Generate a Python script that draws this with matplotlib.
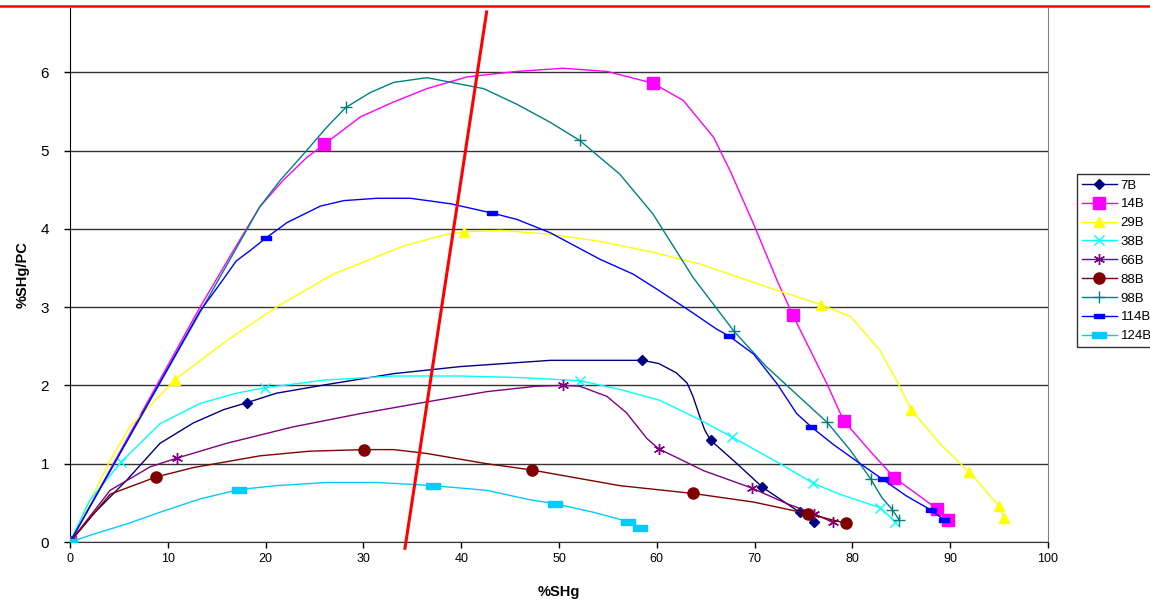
"""
Recreation of the %SHg/PC vs %SHg chart (Excel-style line chart with sparse markers).
"""
import matplotlib
matplotlib.use('Agg')
import matplotlib.pyplot as plt
from matplotlib.lines import Line2D

plt.rcParams['font.family'] = ['Liberation Sans', 'DejaVu Sans']

# ─────────────────────────────────────────
# DATA
# ─────────────────────────────────────────
x_7b = [0, 2.4, 5.8, 9.2, 12.6, 15.7, 18.1, 21.1, 26.2, 33.1, 39.9, 49.1, 58.5, 60.2,
        62.0, 63.1, 63.7, 64.4, 64.9, 65.5, 68.2, 70.8, 74.6, 76.1]
y_7b = [0, 0.36, 0.79, 1.26, 1.52, 1.69, 1.78, 1.90, 2.01, 2.15, 2.24, 2.32, 2.32, 2.28,
        2.16, 2.03, 1.86, 1.60, 1.43, 1.30, 1.00, 0.70, 0.38, 0.25]
mk_7b = [0, 6, 12, 19, 21, 22, 23]

x_14b = [0, 13.3, 16.7, 19.4, 21.8, 24.2, 26.0, 29.7, 33.1, 36.5, 40.6, 45.7, 50.4, 54.9,
         59.6, 62.7, 65.8, 67.5, 69.9, 72.3, 73.9, 77.4, 79.1, 82.1, 84.3, 88.7, 89.8]
y_14b = [0, 3.0, 3.72, 4.28, 4.62, 4.91, 5.08, 5.43, 5.62, 5.79, 5.94, 6.01, 6.05, 6.01,
         5.86, 5.64, 5.17, 4.74, 4.06, 3.34, 2.90, 2.02, 1.55, 1.12, 0.82, 0.42, 0.28]
mk_14b = [0, 6, 14, 20, 22, 24, 25, 26]

x_29b = [0, 4.1, 6.1, 10.7, 16.0, 21.1, 26.9, 34.1, 38.5, 40.3, 44.0, 49.1, 54.2, 59.6,
         64.4, 71.2, 76.8, 79.8, 82.8, 84.7, 86.0, 89.0, 91.9, 95.0, 95.5]
y_29b = [0, 1.04, 1.47, 2.07, 2.57, 3.0, 3.42, 3.78, 3.93, 3.96, 3.98, 3.93, 3.84, 3.70,
         3.55, 3.26, 3.03, 2.88, 2.45, 2.02, 1.69, 1.25, 0.90, 0.46, 0.31]
mk_29b = [0, 3, 9, 16, 20, 22, 23, 24]

x_38b = [0, 2.0, 5.2, 9.2, 13.3, 17.0, 19.9, 26.2, 33.1, 39.9, 46.0, 52.1, 56.2, 60.3,
         64.1, 67.7, 72.6, 76.0, 78.7, 82.8, 84.4]
y_38b = [0, 0.53, 1.02, 1.51, 1.77, 1.90, 1.97, 2.07, 2.12, 2.12, 2.10, 2.06, 1.95, 1.81,
         1.58, 1.34, 1.00, 0.75, 0.61, 0.44, 0.26]
mk_38b = [0, 2, 6, 11, 15, 17, 19, 20]

x_66b = [0, 4.1, 8.2, 10.9, 16.0, 22.8, 29.7, 36.5, 42.6, 47.7, 50.4, 52.1, 54.9, 56.9,
         59.0, 60.2, 64.8, 69.7, 73.3, 76.1, 78.0]
y_66b = [0, 0.66, 0.96, 1.07, 1.26, 1.47, 1.64, 1.79, 1.92, 1.99, 2.0, 1.99, 1.86, 1.65,
         1.32, 1.19, 0.91, 0.69, 0.49, 0.36, 0.25]
mk_66b = [0, 3, 10, 15, 17, 19, 20]

x_88b = [0, 4.1, 8.8, 12.6, 19.4, 24.5, 30.1, 33.1, 36.5, 42.6, 47.2, 56.2, 63.7, 69.9,
         75.5, 79.3]
y_88b = [0, 0.61, 0.83, 0.95, 1.10, 1.16, 1.18, 1.18, 1.13, 1.00, 0.92, 0.72, 0.62, 0.51,
         0.36, 0.24]
mk_88b = [0, 2, 6, 10, 12, 14, 15]

x_98b = [0, 13.6, 19.4, 21.5, 24.2, 26.2, 28.2, 30.7, 33.1, 36.5, 42.3, 45.7, 49.1, 52.1,
         56.2, 59.6, 63.7, 67.9, 71.2, 74.6, 77.4, 79.8, 81.9, 83.0, 84.1, 84.8]
y_98b = [0, 3.0, 4.28, 4.62, 5.0, 5.29, 5.55, 5.74, 5.87, 5.93, 5.79, 5.59, 5.36, 5.13,
         4.70, 4.19, 3.38, 2.69, 2.24, 1.85, 1.53, 1.17, 0.80, 0.57, 0.41, 0.28]
mk_98b = [0, 6, 13, 17, 20, 22, 24, 25]

x_114b = [0, 13.3, 15.3, 17.0, 18.4, 20.0, 22.2, 25.6, 28.0, 31.4, 34.8, 38.9, 43.2, 45.7,
          49.1, 54.2, 57.6, 60.0, 63.4, 66.1, 67.4, 69.9, 72.3, 74.3, 75.8, 78.0, 80.8,
          83.1, 85.5, 88.0, 89.4]
y_114b = [0, 2.95, 3.29, 3.59, 3.72, 3.88, 4.08, 4.29, 4.36, 4.39, 4.39, 4.32, 4.20, 4.12,
          3.95, 3.61, 3.42, 3.23, 2.95, 2.72, 2.63, 2.40, 2.02, 1.64, 1.47, 1.25, 1.0,
          0.80, 0.59, 0.41, 0.28]
mk_114b = [0, 5, 12, 20, 24, 27, 29, 30]

x_124b = [0, 2.4, 5.8, 9.2, 13.3, 17.3, 21.1, 26.2, 31.4, 37.1, 42.6, 47.0, 49.6, 53.5,
          57.1, 58.3]
y_124b = [0, 0.10, 0.23, 0.38, 0.55, 0.67, 0.72, 0.76, 0.76, 0.72, 0.66, 0.54, 0.49, 0.38,
          0.26, 0.18]
mk_124b = [0, 5, 9, 12, 14, 15]

# red guide line (two end points)
guide_x = [34.25, 42.6]
guide_y = [-0.08, 6.77]

x_ticks = list(range(0, 101, 10))
y_ticks = list(range(0, 7))

# ─────────────────────────────────────────
# PLOT
# ─────────────────────────────────────────
dash = [(-1, -0.45), (1, -0.45), (1, 0.45), (-1, 0.45), (-1, -0.45)]
asterisk = (6, 2, 0)

series = [
    ('7B',   x_7b,   y_7b,   mk_7b,   '#000080', 'D',      5),
    ('14B',  x_14b,  y_14b,  mk_14b,  '#FF00FF', 's',      8),
    ('29B',  x_29b,  y_29b,  mk_29b,  '#FFFF00', '^',      7),
    ('38B',  x_38b,  y_38b,  mk_38b,  '#00FFFF', 'x',      7),
    ('66B',  x_66b,  y_66b,  mk_66b,  '#800080', asterisk, 8),
    ('88B',  x_88b,  y_88b,  mk_88b,  '#800000', 'o',      8),
    ('98B',  x_98b,  y_98b,  mk_98b,  '#008080', '+',      8),
    ('114B', x_114b, y_114b, mk_114b, '#0000FF', dash,     7),
    ('124B', x_124b, y_124b, mk_124b, '#00CCFF', dash,     10),
]

fig = plt.figure(figsize=(11.5, 6.1), dpi=100)
ax = fig.add_axes([70 / 1150, 1 - 542 / 610, (1048 - 70) / 1150, (542 - 8) / 610])

for name, xs, ys, mk, col, marker, ms in series:
    ax.plot(xs, ys, color=col, lw=1.0, marker=marker, markersize=ms,
            markevery=mk, markerfacecolor=col, markeredgecolor=col,
            markeredgewidth=1.0, label=name, zorder=3)

ax.plot(guide_x, guide_y, color='red', lw=2.2, clip_on=False, zorder=4)

ax.set_xlim(0, 100)
ax.set_ylim(0, 6.82)
ax.set_xticks(x_ticks)
ax.set_yticks(y_ticks)
ax.tick_params(axis='x', labelsize=9, length=4, width=1, pad=4)
ax.tick_params(axis='y', labelsize=11, length=4, width=1, pad=11)
ax.grid(axis='y', color='#333333', lw=1.0, zorder=1)
ax.set_axisbelow(True)

ax.spines['top'].set_visible(False)
ax.spines['left'].set_color('black')
ax.spines['bottom'].set_color('#333333')
ax.spines['right'].set_color('#808080')

ax.set_xlabel('%SHg', fontsize=10.5, fontweight='bold', labelpad=14)
ax.set_ylabel('%SHg/PC', fontsize=10.5, fontweight='bold', labelpad=8)

leg = fig.legend(loc='upper left', bbox_to_anchor=(1077 / 1150, 1 - 174 / 610),
                 fontsize=9.5, frameon=True, fancybox=False, edgecolor='black',
                 handlelength=2.6, labelspacing=0.5, borderpad=0.4,
                 handletextpad=0.3, borderaxespad=0)
leg.get_frame().set_linewidth(1.0)

# red border line across the top of the picture
fig.add_artist(Line2D([0, 1], [1 - 6 / 610, 1 - 6 / 610], color='red', lw=1.8,
                      transform=fig.transFigure))

fig.patch.set_facecolor('white')
plt.savefig('out.png', dpi=100)
